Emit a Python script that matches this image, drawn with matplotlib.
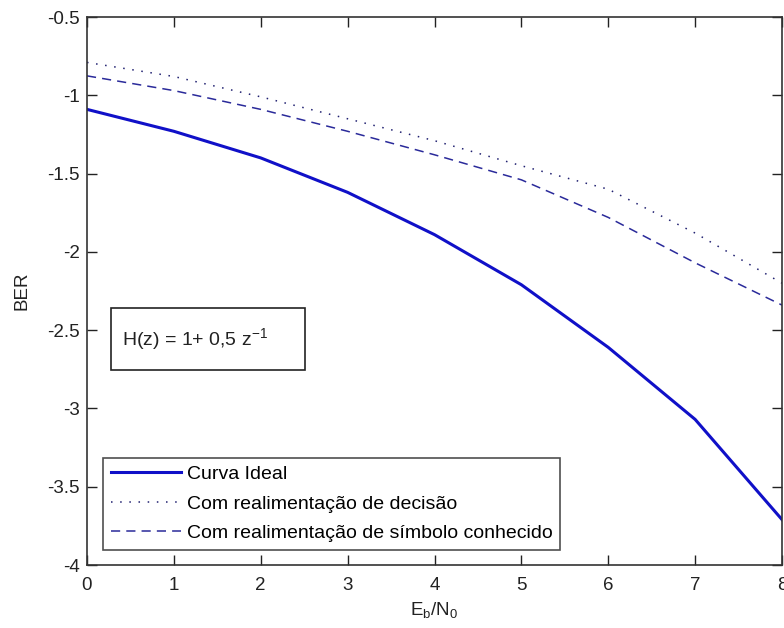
import matplotlib
matplotlib.use("Agg")
import matplotlib.pyplot as plt
from matplotlib.patches import Rectangle
from matplotlib.ticker import FuncFormatter

# Data
ebn0 = [0, 1, 2, 3, 4, 5, 6, 7, 8]
ber_ideal = [-1.09, -1.23, -1.40, -1.62, -1.89, -2.21, -2.61, -3.07, -3.71]
ber_decision = [-0.79, -0.88, -1.01, -1.15, -1.29, -1.45, -1.60, -1.88, -2.20]
ber_known = [-0.876, -0.97, -1.09, -1.23, -1.38, -1.54, -1.78, -2.07, -2.34]
labels = ["Curva Ideal",
          "Com realimentação de decisão",
          "Com realimentação de símbolo conhecido"]
xticks = [0, 1, 2, 3, 4, 5, 6, 7, 8]
yticks = [-4, -3.5, -3, -2.5, -2, -1.5, -1, -0.5]

plt.rcParams['font.family'] = ['Liberation Sans', 'DejaVu Sans']
plt.rcParams['axes.unicode_minus'] = False
plt.rcParams['mathtext.default'] = 'regular'

W, H = 784, 628
fig = plt.figure(figsize=(W / 100, H / 100), dpi=100)
L, R, T, B = 87, 782, 17, 565
ax = fig.add_axes([L / W, (H - B) / H, (R - L) / W, (B - T) / H])

ax.plot(ebn0, ber_ideal, color='#1010c8', lw=2.2, linestyle='-', label=labels[0])
ax.plot(ebn0, ber_decision, color='#202070', lw=1.1, linestyle=(0, (1, 5)), label=labels[1])
ax.plot(ebn0, ber_known, color='#2a2a9a', lw=1.1, linestyle=(0, (6, 4)), label=labels[2])

ax.set_xlim(0, 8)
ax.set_ylim(-4, -0.5)
ax.set_xticks(xticks)
ax.set_yticks(yticks)
ax.yaxis.set_major_formatter(FuncFormatter(lambda v, p: '%g' % v))
ax.xaxis.set_major_formatter(FuncFormatter(lambda v, p: '%g' % v))
ax.tick_params(direction='in', length=7, width=1, top=True, right=True,
               labelsize=13.5, colors='#222222')
ax.tick_params(axis='x', pad=9)
ax.tick_params(axis='y', pad=5)
for s in ax.spines.values():
    s.set_color('#333333')
    s.set_linewidth(1.2)

ax.set_xlabel(r'E$_{b}$/N$_{0}$', fontsize=13.5, color='#222222', labelpad=4)
ax.set_ylabel('BER', fontsize=13.5, color='#222222', labelpad=12)

leg = ax.legend(loc='lower left',
                bbox_to_anchor=(103 / W, (H - 550) / H),
                bbox_transform=fig.transFigure,
                fontsize=14, handlelength=3.6, handletextpad=0.3,
                labelspacing=0.62, borderpad=0.4, borderaxespad=0,
                fancybox=False, frameon=True)
leg.get_frame().set_edgecolor('#222222')
leg.get_frame().set_linewidth(1.2)

# H(z) annotation box
bx0, by0, bx1, by1 = 111, 308, 305, 370
fig.patches.append(Rectangle((bx0 / W, (H - by1) / H), (bx1 - bx0) / W, (by1 - by0) / H,
                             transform=fig.transFigure, fill=False,
                             edgecolor='#222222', linewidth=1.2))
fig.text(122 / W, (H - 339) / H, r'H(z) = 1+ 0,5 z$^{-1}$', fontsize=14,
         color='#222222', ha='left', va='center')

fig.savefig('out.png', dpi=100)
